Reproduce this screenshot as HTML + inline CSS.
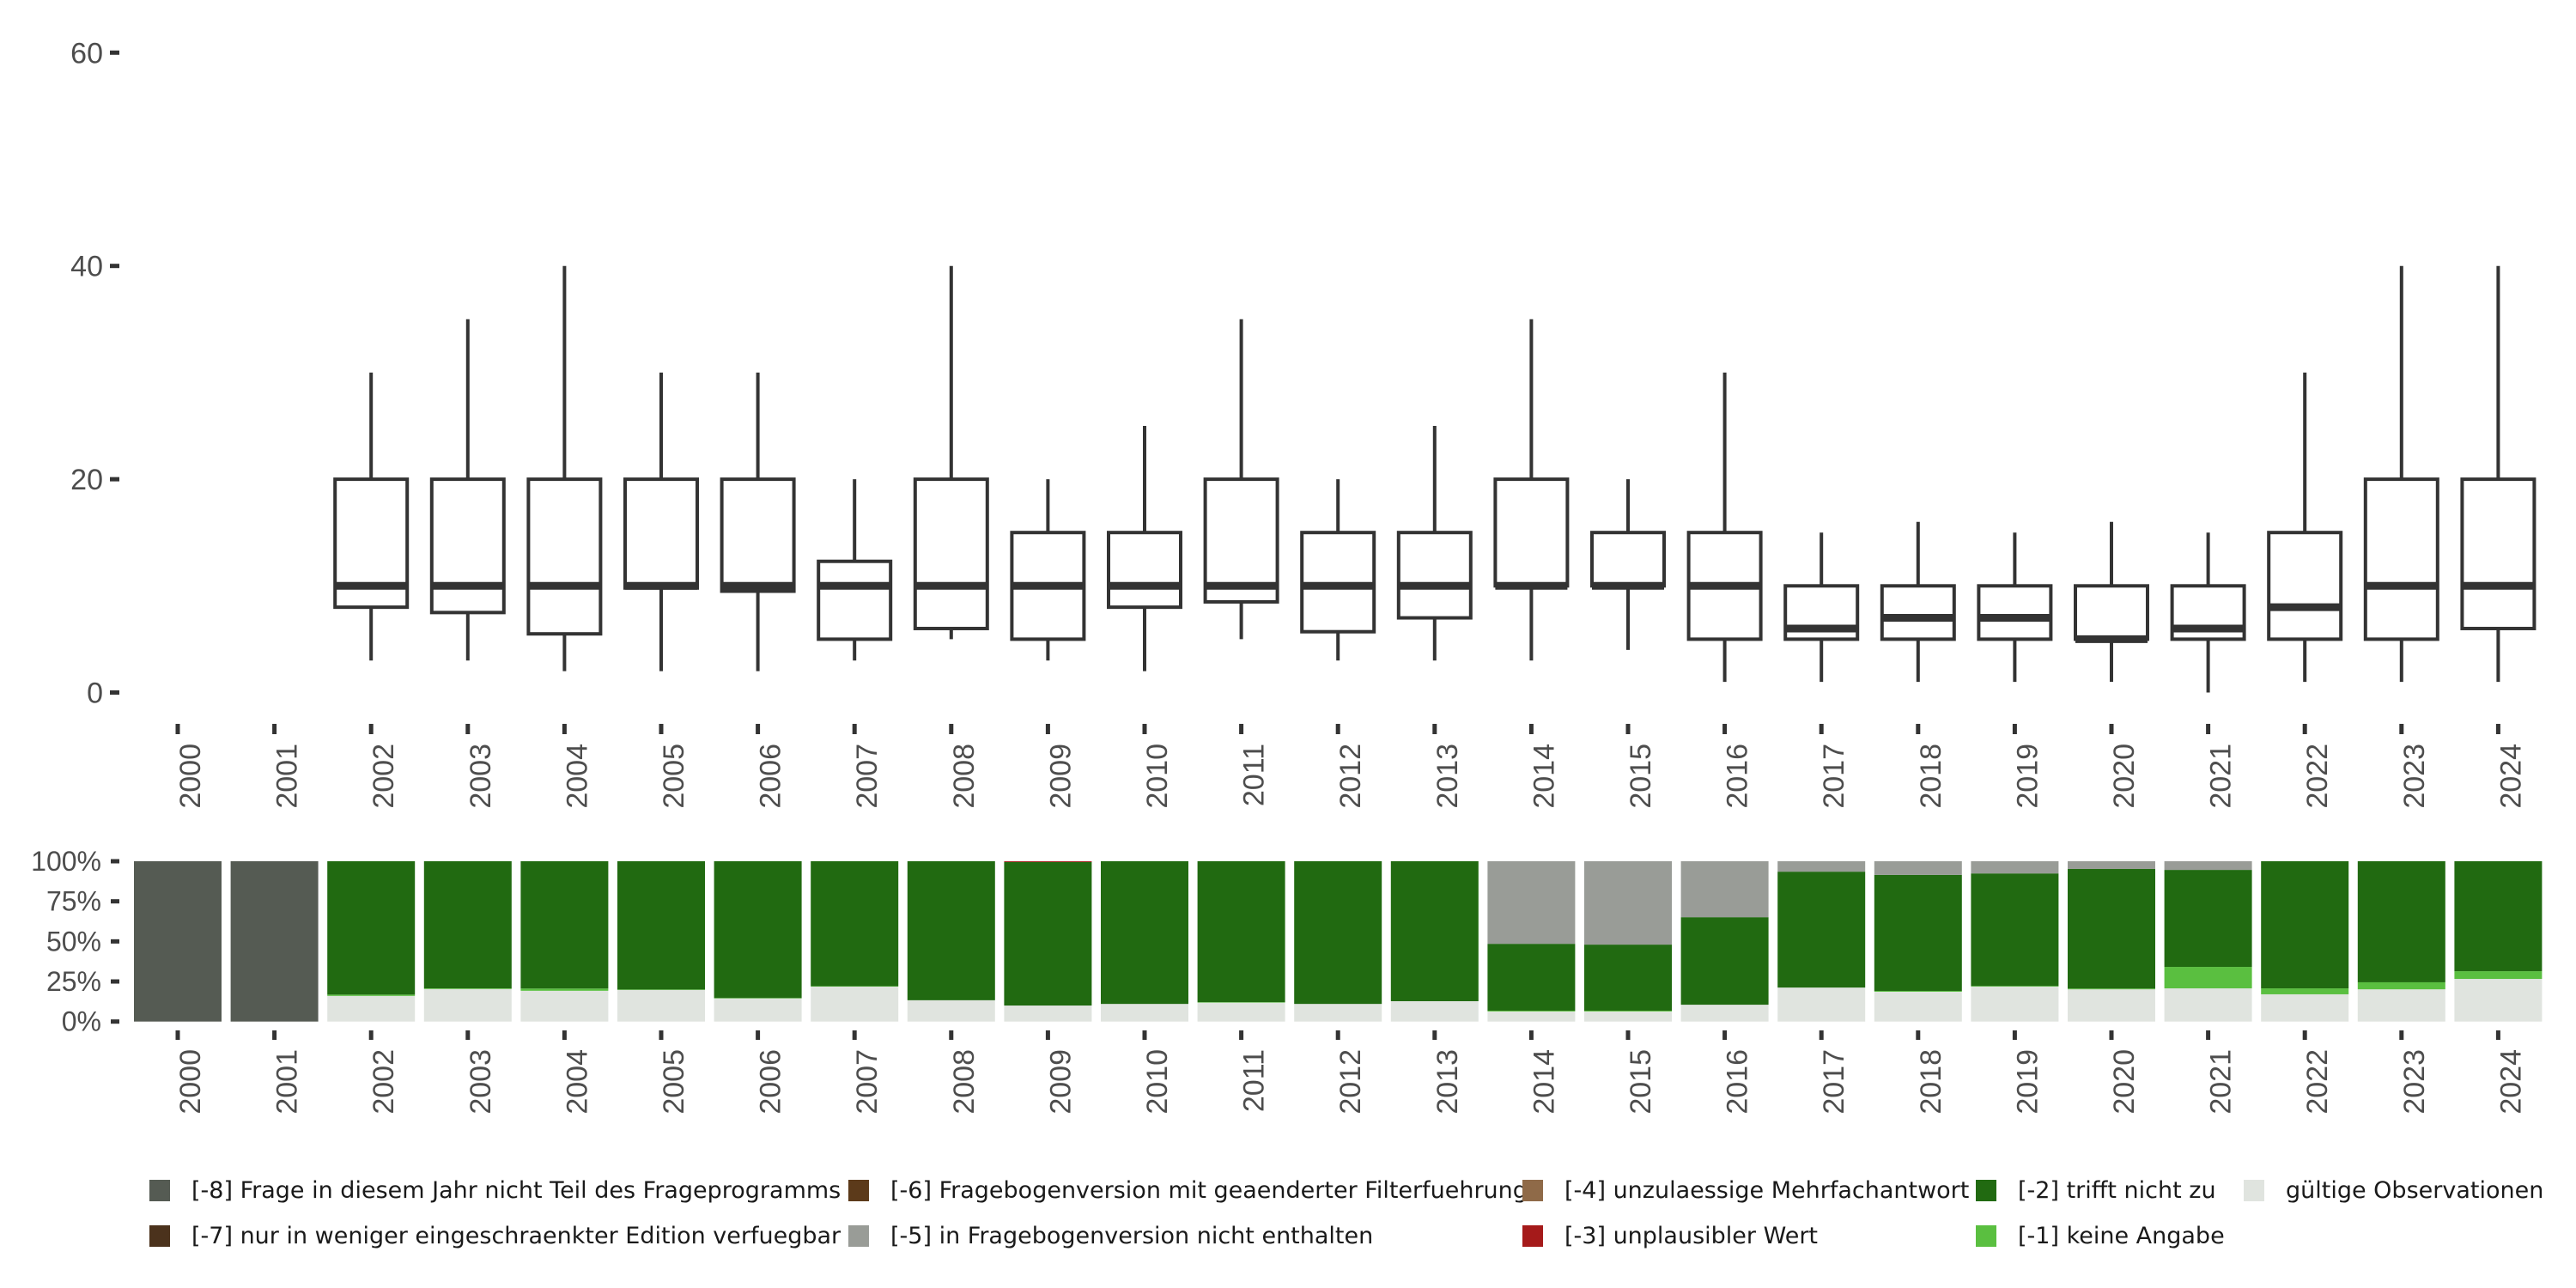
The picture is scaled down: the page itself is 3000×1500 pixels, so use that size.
<!DOCTYPE html>
<html><head><meta charset="utf-8"><style>
html,body{margin:0;padding:0;background:#fff;}
svg{display:block;font-family:"Liberation Sans",sans-serif;}
</style></head><body>
<svg id="chart" width="3000" height="1500" viewBox="0 0 3000 1500" xmlns="http://www.w3.org/2000/svg">
<g id="topPanel"></g>
<g id="botPanel"></g>
<g id="legPanel"></g>
</svg>
<script>
const years = [2000,2001,2002,2003,2004,2005,2006,2007,2008,2009,2010,2011,2012,2013,2014,2015,2016,2017,2018,2019,2020,2021,2022,2023,2024];
const wLow  = [null,null,3,3,2,2,2,3,5,3,2,5,3,3,3,4,1,1,1,1,1,0,1,1,1];
const q1    = [null,null,8,7.5,5.5,9.8,9.5,5,6,5,8,8.5,5.7,7,10,10,5,5,5,5,5,5,5,5,6];
const med   = [null,null,10,10,10,10,10,10,10,10,10,10,10,10,10,10,10,6,7,7,5,6,8,10,10];
const q3    = [null,null,20,20,20,20,20,12.3,20,15,15,20,15,15,20,15,15,10,10,10,10,10,15,20,20];
const wHigh = [null,null,30,35,40,30,30,20,40,20,25,35,20,25,35,20,30,15,16,15,16,15,30,40,40];
const yTicks = [0,20,40,60];
const pValid = [0,0,16,20.3,19.2,19.7,14.4,21.8,13.3,10,11,11.8,11,12.7,6.3,6.3,10.5,21.2,18.6,21.8,20.1,20.7,17,20.1,26.6];
const pM1    = [0,0,0.8,0.4,1.4,0.3,0.3,0.3,0,0,0,0.3,0,0,0.5,0.5,0,0,0.5,0.4,0.5,13.4,3.7,4.4,4.8];
const pM3    = [0,0,0,0,0,0,0,0,0,0.5,0,0,0,0,0,0,0,0,0,0,0,0,0,0,0];
const pM5    = [0,0,0,0,0,0,0,0,0,0,0,0,0,0,51.5,52,34.9,6.5,8.5,7.6,4.8,5.4,0,0,0];
const pM8    = [100,100,0,0,0,0,0,0,0,0,0,0,0,0,0,0,0,0,0,0,0,0,0,0,0];
const pctTicks = [0,25,50,75,100];
const legendLabels = ["[-8] Frage in diesem Jahr nicht Teil des Frageprogramms","[-7] nur in weniger eingeschraenkter Edition verfuegbar","[-6] Fragebogenversion mit geaenderter Filterfuehrung","[-5] in Fragebogenversion nicht enthalten","[-4] unzulaessige Mehrfachantwort","[-3] unplausibler Wert","[-2] trifft nicht zu","[-1] keine Angabe","gültige Observationen"];
const legendColors = ["#555b53","#4b321c","#5c3a1a","#999c97","#8f6a48","#a51a1a","#216a11","#5abf40","#e0e4df"];

const NS="http://www.w3.org/2000/svg";
function mk(tag,attrs,parent){const e=document.createElementNS(NS,tag);for(const k in attrs)e.setAttribute(k,attrs[k]);parent.appendChild(e);return e;}
const xPos = i => 207 + i*112.6;
const yTop = v => 806.5 - v*12.42;
const yBot = p => 1189.7 - p*1.867;
const topG=document.getElementById('topPanel'), botG=document.getElementById('botPanel'), legG=document.getElementById('legPanel');

yTicks.forEach(t=>{
  const tk=mk('line',{x1:128,x2:139,y1:yTop(t),y2:yTop(t),stroke:'#333','stroke-width':5},topG);
  
  
  const tx=mk('text',{x:120,y:yTop(t)+12,'text-anchor':'end','font-size':34,fill:'#4d4d4d'},topG);
  tx.textContent=t;
  
  
});
years.forEach((yr,i)=>{
  const x=xPos(i);
  const tk=mk('line',{x1:x,x2:x,y1:843,y2:855,stroke:'#333','stroke-width':5},topG);
  
  
  const tx=mk('text',{x:0,y:0,'text-anchor':'end','font-size':34,fill:'#4d4d4d',transform:`translate(${x+26},866) rotate(-90)`},topG);
  tx.textContent=yr;
  
  
  if(med[i]!==null){
    const g=mk('g',{},topG);
    
    
    mk('line',{x1:x,x2:x,y1:yTop(wHigh[i]),y2:yTop(q3[i]),stroke:'#333','stroke-width':4},g);
    mk('line',{x1:x,x2:x,y1:yTop(q1[i]),y2:yTop(wLow[i]),stroke:'#333','stroke-width':4},g);
    mk('rect',{x:x-42,y:yTop(q3[i]),width:84,height:yTop(q1[i])-yTop(q3[i]),fill:'#fff',stroke:'#333','stroke-width':4},g);
    mk('line',{x1:x-42,x2:x+42,y1:yTop(med[i]),y2:yTop(med[i]),stroke:'#333','stroke-width':9},g);
  }
});

pctTicks.forEach(t=>{
  const tk=mk('line',{x1:129,x2:139,y1:yBot(t),y2:yBot(t),stroke:'#333','stroke-width':5},botG);
  
  
  const tx=mk('text',{x:118,y:yBot(t)+11,'text-anchor':'end','font-size':32,fill:'#4d4d4d'},botG);
  tx.textContent=t+'%';
  
  
});
years.forEach((yr,i)=>{
  const x=xPos(i);
  const m2=100-pValid[i]-pM1[i]-pM3[i]-pM5[i]-pM8[i];
  const vals=[[pValid[i],8,'valid'],[pM1[i],7,'m1'],[m2,6,'m2'],[pM3[i],5,'m3'],[pM5[i],3,'m5'],[pM8[i],0,'m8']];
  let acc=0;
  vals.forEach(([v,c,nm])=>{
    if(v<=0){return;}
    const r=mk('rect',{x:x-51,y:yBot(acc+v),width:102,height:yBot(acc)-yBot(acc+v),fill:legendColors[c]},botG);
    
    
    acc+=v;
  });
  const tk=mk('line',{x1:x,x2:x,y1:1200,y2:1211,stroke:'#333','stroke-width':5},botG);
  
  
  const tx=mk('text',{x:0,y:0,'text-anchor':'end','font-size':34,fill:'#4d4d4d',transform:`translate(${x+26},1222) rotate(-90)`},botG);
  tx.textContent=yr;
  
  
});

const colX=[174,988,1773,2301,2613];
const rowY=[1386,1439];
legendLabels.forEach((lab,k)=>{
  const col=Math.floor(k/2), row=k%2;
  const g=mk('g',{},legG);
  
  
  mk('rect',{x:colX[col],y:rowY[row]-12,width:24,height:25,fill:legendColors[k]},g);
  const t=mk('text',{x:colX[col]+49,y:rowY[row]+9,'font-size':27,fill:'#1a1a1a','font-family':'DejaVu Sans, sans-serif'},g);
  t.textContent=lab;
});
</script>
</body></html>
